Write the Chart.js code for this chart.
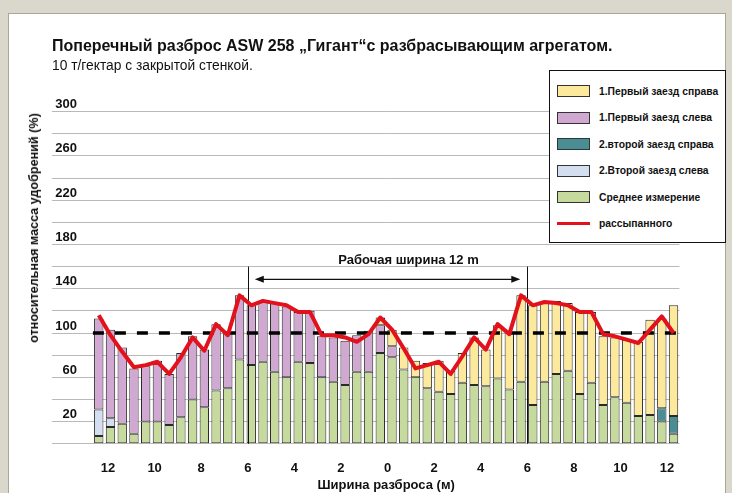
<!DOCTYPE html>
<html>
<head>
<meta charset="utf-8">
<title>Поперечный разброс ASW 258</title>
<script src="https://cdn.jsdelivr.net/npm/chart.js@4.4.1/dist/chart.umd.min.js"></script>
<style>
  html, body { margin: 0; padding: 0; }
  body {
    width: 732px; height: 493px; position: relative; overflow: hidden;
    background: #dad7cc; color: #111;
    font-family: "Liberation Sans", Arial, sans-serif;
  }
  .panel { position: absolute; left: 8px; top: 13px; width: 716px; height: 490px; background: #fff; border: 1px solid #a8a59b; }
  #chart { position: absolute; left: 0; top: 0; }
  .title { position: absolute; left: 52px; top: 37px; font-size: 16px; font-weight: bold; white-space: nowrap; }
  .subtitle { position: absolute; left: 52px; top: 58px; font-size: 13.8px; white-space: nowrap; }
  .ytitle {
    position: absolute; left: 34px; top: 228px; white-space: nowrap;
    transform: translate(-50%, -50%) rotate(-90deg);
    font-size: 12.6px; font-weight: bold;
  }
  #legend {
    position: absolute; left: 549px; top: 70px; width: 177px; height: 173px;
    background: #fff; border: 1px solid #111; box-sizing: border-box;
    padding-top: 13px;
  }
  .row { display: flex; align-items: center; height: 14px; margin-bottom: 12.5px; padding-left: 7px; }
  .swatch { flex-shrink: 0; width: 31px; height: 10px; border: 1px solid #333; margin-right: 9px; }
  .stroke { flex-shrink: 0; width: 33px; height: 3px; margin-right: 9px; }
  .row span { font-size: 10.3px; font-weight: bold; white-space: nowrap; }
</style>
</head>
<body>
<div class="panel"></div>
<canvas id="chart" width="732" height="493"></canvas>
<div class="title">Поперечный разброс ASW 258 „Гигант“с разбрасывающим агрегатом.</div>
<div class="subtitle">10 т/гектар с закрытой стенкой.</div>
<div class="ytitle">относительная масса удобрений (%)</div>
<div id="legend"></div>
<script>
// sample trays across the spread width, left to right
const trays = ['1','2','3','4','5','6','7','8','9','10','11','12','13','14','15','16','17','18','19','20',
  '21','22','23','24','25','26','27','28','29','30','31','32','33','34','35','36','37','38','39','40',
  '41','42','43','44','45','46','47','48','49','50'];

// stacked parts of each bar (%)
const averageMeasured = [7,15,18,9,20,20,17,24,40,33, 48,50,76,71,74,65,60,74,73,60,
  56,53,65,65,82,78,67,60,50,47, 45,55,53,52,59,49,56,35,56,63, 66,45,55,35,42,37,25,26,20,9];
const secondLeft = [24,8,null,null,null,null,null,null,null,null, null,null,null,null,null,null,null,null,null,null,
  null,null,null,null,null,null,null,null,null,null, null,null,null,null,null,null,null,null,null,null,
  null,null,null,null,null,null,null,null,null,null];
const secondRight = [null,null,null,null,null,null,null,null,null,null, null,null,null,null,null,null,null,null,null,null,
  null,null,null,null,null,null,null,null,null,null, null,null,null,null,null,null,null,null,null,null,
  null,null,null,null,null,null,null,null,12,16];
const firstLeft = [82,80,69,59,50,55,46,58,57,52, 60,50,58,54,55,62,64,45,47,37,
  40,40,33,37,25,10,null,null,null,null, null,null,null,null,null,null,null,null,null,null,
  null,null,null,null,null,null,null,null,null,null];
const firstRight = [null,null,null,null,null,null,null,null,null,null, null,null,null,null,null,null,null,null,null,null,
  null,null,null,null,7,15,20,15,23,28, 21,27,43,33,48,52,78,90,72,66, 61,74,64,62,54,57,67,86,81,100];

// total spread line (%)
const spreadTotal = [116,98,83,69,71,74,63,78,96,84, 108,98,134,125,129,127,125,119,119,98,
  98,96,92,99,114,103,86,68,71,74, 63,79,96,85,108,99,134,125,128,127, 125,119,119,99,97,94,91,103,115,100];

const targetLevel = 100;
const yTickLabels = [20, 60, 100, 140, 180, 220, 260, 300];
const xTickPositions = [-12, -10, -8, -6, -4, -2, 0, 2, 4, 6, 8, 10, 12];
const xTickLabels = ['12', '10', '8', '6', '4', '2', '0', '2', '4', '6', '8', '10', '12'];
const workingWidthEdges = [-6, 6];
const workingWidthLabel = 'Рабочая ширина 12 m';

const axisFont = { family: '"Liberation Sans", Arial, sans-serif', size: 13, weight: 'bold' };

const markers = {
  id: 'markers',
  beforeDatasetDraw(chart, args) {
    if (chart.data.datasets[args.index].type !== 'line') return;
    const { ctx, chartArea, scales } = chart;
    const y = scales.y, x2 = scales.x2;
    ctx.save();
    // 100 % reference line
    const py = y.getPixelForValue(targetLevel);
    ctx.strokeStyle = '#000';
    ctx.lineWidth = 3.5;
    ctx.setLineDash([11, 11]);
    ctx.beginPath();
    ctx.moveTo(chartArea.left, py);
    ctx.lineTo(chartArea.right, py);
    ctx.stroke();
    ctx.setLineDash([]);

    // working width marks
    const xa = x2.getPixelForValue(workingWidthEdges[0]);
    const xb = x2.getPixelForValue(workingWidthEdges[1]);
    ctx.lineWidth = 1;
    ctx.strokeStyle = '#111';
    ctx.beginPath();
    [xa, xb].forEach(px => {
      ctx.moveTo(Math.round(px) + 0.5, y.getPixelForValue(0));
      ctx.lineTo(Math.round(px) + 0.5, y.getPixelForValue(160));
    });
    ctx.stroke();

    const ay = y.getPixelForValue(148.5);
    const a1 = xa + 7, a2 = xb - 7;
    ctx.lineWidth = 1.3;
    ctx.beginPath();
    ctx.moveTo(a1 + 6, ay);
    ctx.lineTo(a2 - 6, ay);
    ctx.stroke();
    ctx.fillStyle = '#111';
    ctx.beginPath();
    ctx.moveTo(a1, ay); ctx.lineTo(a1 + 9, ay - 3.5); ctx.lineTo(a1 + 9, ay + 3.5); ctx.closePath();
    ctx.moveTo(a2, ay); ctx.lineTo(a2 - 9, ay - 3.5); ctx.lineTo(a2 - 9, ay + 3.5); ctx.closePath();
    ctx.fill();

    ctx.font = 'bold 13px "Liberation Sans", Arial, sans-serif';
    ctx.textAlign = 'center';
    ctx.textBaseline = 'middle';
    ctx.fillText(workingWidthLabel, x2.getPixelForValue(0.9), y.getPixelForValue(166));
    ctx.restore();
  }
};

const barStyle = { borderColor: '#2a2a2a', borderWidth: 1, borderSkipped: false, barPercentage: 0.8, categoryPercentage: 1, order: 1 };

const chart = new Chart(document.getElementById('chart'), {
  type: 'bar',
  data: {
    labels: trays,
    datasets: [
      { label: 'Среднее измерение', data: averageMeasured, backgroundColor: '#c6da9d', ...barStyle },
      { label: '2.Второй заезд слева', data: secondLeft, backgroundColor: '#d3dff1', ...barStyle },
      { label: '2.второй заезд справа', data: secondRight, backgroundColor: '#4b8d95', ...barStyle },
      { label: '1.Первый заезд слева', data: firstLeft, backgroundColor: '#d0a8d2', ...barStyle },
      { label: '1.Первый заезд справа', data: firstRight, backgroundColor: '#fde99c', ...barStyle },
      { type: 'line', label: 'рассыпанного', data: spreadTotal, borderColor: '#e3111c', borderWidth: 4,
        pointRadius: 0, tension: 0, borderJoinStyle: 'round', order: 0 }
    ]
  },
  options: {
    responsive: false,
    animation: false,
    devicePixelRatio: 1,
    layout: { padding: { left: 20, right: 52.6, top: 111.6, bottom: 0 } },
    plugins: { legend: { display: false }, tooltip: { enabled: false } },
    scales: {
      x: { stacked: true, display: false },
      x2: {
        type: 'linear', position: 'bottom', min: -12.65, max: 12.53, offset: false,
        grid: { display: false, offset: false }, border: { display: false },
        afterBuildTicks: s => { s.ticks = xTickPositions.map(v => ({ value: v })); },
        afterFit: s => { s.height = 49.3; },
        ticks: { autoSkip: false, maxRotation: 0, padding: 9, color: '#111', font: axisFont,
                 callback: (v, i) => xTickLabels[i] },
        title: { display: true, text: 'Ширина разброса (м)', color: '#111', font: axisFont, padding: { top: 2, bottom: 0 } }
      },
      y: {
        stacked: true, min: 0, max: 300,
        afterFit: s => { s.width = 72.9; },
        border: { display: false },
        grid: { color: '#b9b9b9', lineWidth: 1, drawTicks: true, tickLength: 41 },
        ticks: { stepSize: 20, padding: -25, labelOffset: -7, color: '#111', font: axisFont,
                 callback: v => yTickLabels.includes(v) ? String(v) : '' }
      }
    }
  },
  plugins: [markers]
});

// legend box, same order as the original
const legendOrder = [4, 3, 2, 1, 0, 5];
const legendEl = document.getElementById('legend');
legendOrder.forEach(i => {
  const ds = chart.data.datasets[i];
  const row = document.createElement('div');
  row.className = 'row';
  const mark = document.createElement('div');
  if (ds.type === 'line') {
    mark.className = 'stroke';
    mark.style.background = ds.borderColor;
  } else {
    mark.className = 'swatch';
    mark.style.background = ds.backgroundColor;
  }
  const text = document.createElement('span');
  text.textContent = ds.label;
  row.appendChild(mark);
  row.appendChild(text);
  legendEl.appendChild(row);
});
</script>
</body>
</html>
